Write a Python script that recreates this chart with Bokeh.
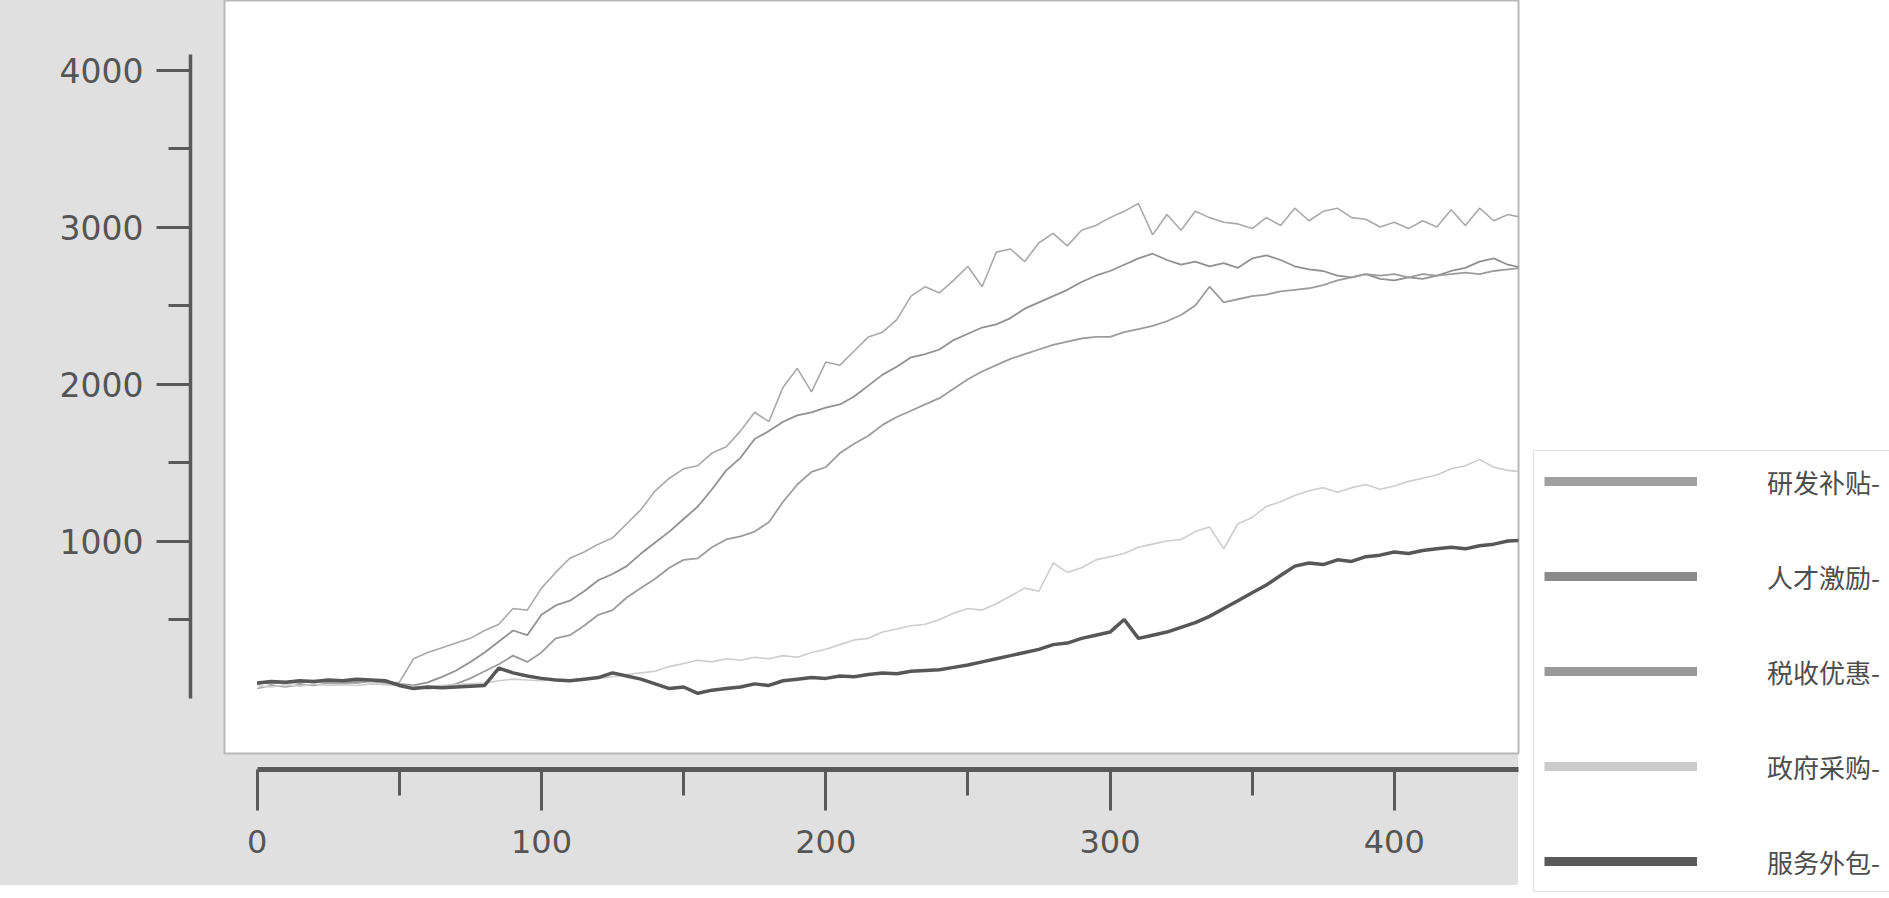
from bokeh.plotting import figure
from bokeh.models import Range1d, LinearAxis, FixedTicker, Legend, LegendItem, ColumnDataSource
from bokeh.embed import file_html
from bokeh.resources import INLINE

# ---- data -------------------------------------------------------------
ticks_t = list(range(0, 450, 5))

yanfa_butie = [60, 80, 70, 85, 80, 95, 90, 100, 105, 95, 100, 250, 290, 320, 350, 380, 430, 470,
               570, 560, 700, 800, 890, 930, 980, 1020, 1110, 1200, 1320, 1400, 1460, 1480, 1560, 1600,
               1700, 1820, 1760, 1980, 2100, 1950, 2140, 2120, 2210, 2300, 2330, 2410, 2560, 2620, 2580,
               2660, 2750, 2620, 2840, 2860, 2780, 2900, 2960, 2880, 2980, 3010, 3060, 3100, 3150, 2950,
               3080, 2980, 3100, 3060, 3030, 3020, 2990, 3060, 3010, 3120, 3040, 3100, 3120, 3060, 3050,
               3000, 3030, 2990, 3040, 3000, 3110, 3010, 3120, 3040, 3080, 3060]

rencai_jili = [90, 100, 95, 105, 100, 110, 105, 110, 115, 105, 90, 80, 100, 135, 175, 230, 290, 360,
               430, 400, 530, 590, 620, 680, 750, 790, 840, 920, 990, 1060, 1140, 1220, 1330, 1450,
               1530, 1650, 1700, 1760, 1800, 1820, 1850, 1870, 1920, 1990, 2060, 2110, 2170, 2190, 2220,
               2280, 2320, 2360, 2380, 2420, 2480, 2520, 2560, 2600, 2650, 2690, 2720, 2760, 2800, 2830,
               2790, 2760, 2780, 2750, 2770, 2740, 2800, 2820, 2790, 2750, 2730, 2720, 2690, 2680, 2700,
               2670, 2660, 2680, 2670, 2690, 2720, 2740, 2780, 2800, 2760, 2740]

shuishou_youhui = [100, 90, 105, 95, 110, 100, 105, 95, 110, 100, 85, 70, 60, 70, 90, 125, 170, 215,
                   270, 230, 290, 380, 400, 460, 530, 560, 640, 700, 760, 830, 880, 890, 960, 1010,
                   1030, 1060, 1120, 1250, 1360, 1440, 1470, 1560, 1620, 1670, 1740, 1790, 1830, 1870, 1910,
                   1970, 2030, 2080, 2120, 2160, 2190, 2220, 2250, 2270, 2290, 2300, 2300, 2330, 2350, 2370,
                   2400, 2440, 2500, 2620, 2520, 2540, 2560, 2570, 2590, 2600, 2610, 2630, 2660, 2680, 2700,
                   2690, 2700, 2680, 2700, 2690, 2700, 2710, 2700, 2720, 2730, 2740]

zhengfu_caigou = [80, 70, 85, 75, 90, 80, 85, 80, 90, 85, 80, 75, 70, 80, 85, 90, 95, 110,
                  120, 115, 110, 120, 115, 120, 125, 135, 150, 160, 170, 200, 220, 240, 230, 250,
                  240, 260, 250, 270, 260, 290, 310, 340, 370, 380, 420, 440, 460, 470, 500,
                  540, 570, 560, 600, 650, 700, 680, 860, 800, 830, 880, 900, 920, 960, 980,
                  1000, 1010, 1060, 1090, 950, 1110, 1150, 1220, 1250, 1290, 1320, 1340, 1310, 1340, 1360,
                  1330, 1350, 1380, 1400, 1420, 1460, 1480, 1520, 1470, 1450, 1440]

fuwu_waibao = [95, 105, 100, 110, 105, 115, 110, 120, 115, 110, 80, 60, 70, 65, 70, 75, 80, 190,
               160, 140, 125, 115, 110, 120, 130, 160, 140, 120, 90, 60, 70, 30, 50, 60,
               70, 90, 80, 110, 120, 130, 125, 140, 135, 150, 160, 155, 170, 175, 180,
               195, 210, 230, 250, 270, 290, 310, 340, 350, 380, 400, 420, 500, 380, 400,
               420, 450, 480, 520, 570, 620, 670, 720, 780, 840, 860, 850, 880, 870, 900,
               910, 930, 920, 940, 950, 960, 950, 970, 980, 1000, 1005]

series_names = ["研发补贴-", "人才激励-", "税收优惠-", "政府采购-", "服务外包-"]
series_values = [yanfa_butie, rencai_jili, shuishou_youhui, zhengfu_caigou, fuwu_waibao]
series_colors = ["#a9a9a9", "#919191", "#9c9c9c", "#cdcdcd", "#575757"]
series_widths = [1.6, 1.8, 1.8, 1.6, 3.5]
legend_colors = ["#a0a0a0", "#8a8a8a", "#999999", "#cbcbcb", "#5a5a5a"]

y_major = [1000, 2000, 3000, 4000]
y_minor = [500, 1500, 2500, 3500]
x_major = [0, 100, 200, 300, 400]
x_minor = [50, 150, 250, 350]

AXIS = "#5a5a5a"
LABEL = "#555555"
GRAY = "#e0e0e0"
FONT = "DejaVu Sans"

# ---- figure ------------------------------------------------------------
p = figure(frame_width=1294, frame_height=753, output_backend="svg", toolbar_location=None,
           x_range=Range1d(-11.5, 443.7), y_range=Range1d(-353.5, 4443),
           x_axis_location=None, y_axis_location=None,
           min_border_left=224, min_border_right=0, min_border_top=0, min_border_bottom=145)
p.extra_y_ranges = {"swatch": Range1d(-1e7, -1e7 + 1)}
p.border_fill_alpha = 0
p.styles = {"background": "linear-gradient(%s, %s) no-repeat 0 0 / 1518px 885px, #ffffff" % (GRAY, GRAY)}
p.background_fill_color = "white"
p.outline_line_color = "#b8b8b8"
p.outline_line_width = 2
p.grid.visible = False


def spacer_axis(size):
    return LinearAxis(axis_line_color=None, major_tick_line_color=None, minor_tick_line_color=None,
                      major_tick_out=size, major_tick_in=0, minor_tick_out=0, minor_tick_in=0,
                      major_label_text_font_size="0px", major_label_text_alpha=0,
                      major_label_standoff=0)


def styled_axis(major, minor, bounds, maj_len, min_len, standoff, fsize, lw):
    return LinearAxis(ticker=FixedTicker(ticks=major, minor_ticks=minor), bounds=bounds,
                      axis_line_color=AXIS, axis_line_width=lw,
                      major_tick_line_color=AXIS, major_tick_line_width=3,
                      major_tick_out=maj_len, major_tick_in=0,
                      minor_tick_line_color=AXIS, minor_tick_line_width=3,
                      minor_tick_out=min_len, minor_tick_in=0,
                      major_label_standoff=standoff,
                      major_label_text_font=FONT, major_label_text_font_size=fsize,
                      major_label_text_color=LABEL)


p.add_layout(spacer_axis(34), "left")
p.add_layout(styled_axis(y_major, y_minor, (0, 4100), 34, 22, 13, "33px", 3.5), "left")
p.add_layout(spacer_axis(16), "below")
p.add_layout(styled_axis(x_major, x_minor, (0, 443.7), 41, 26, 19, "32px", 5), "below")

items = []
for name, vals, col, w, lcol in zip(series_names, series_values, series_colors, series_widths, legend_colors):
    src = ColumnDataSource(dict(t=ticks_t, v=vals))
    p.line("t", "v", source=src, line_color=col, line_width=w)
    # thick legend swatch: twin renderer mapped to an off-screen range, so only its legend entry shows
    r_leg = p.line("t", "v", source=src, line_color=lcol, line_width=9, y_range_name="swatch")
    items.append(LegendItem(label=name, renderers=[r_leg]))

legend = Legend(items=items, location=(15, -139), orientation="vertical",
                border_line_color="#c4c4c4", border_line_width=1.5,
                background_fill_color="white", background_fill_alpha=1.0,
                padding=10, spacing=55, margin=0,
                glyph_width=153, glyph_height=40, label_height=40, label_standoff=70,
                label_text_font="Noto Sans CJK SC", label_text_font_size="26px",
                label_text_color="#4d4d4d")
p.add_layout(legend, "right")

open("out.html", "w").write(file_html(p, INLINE))
